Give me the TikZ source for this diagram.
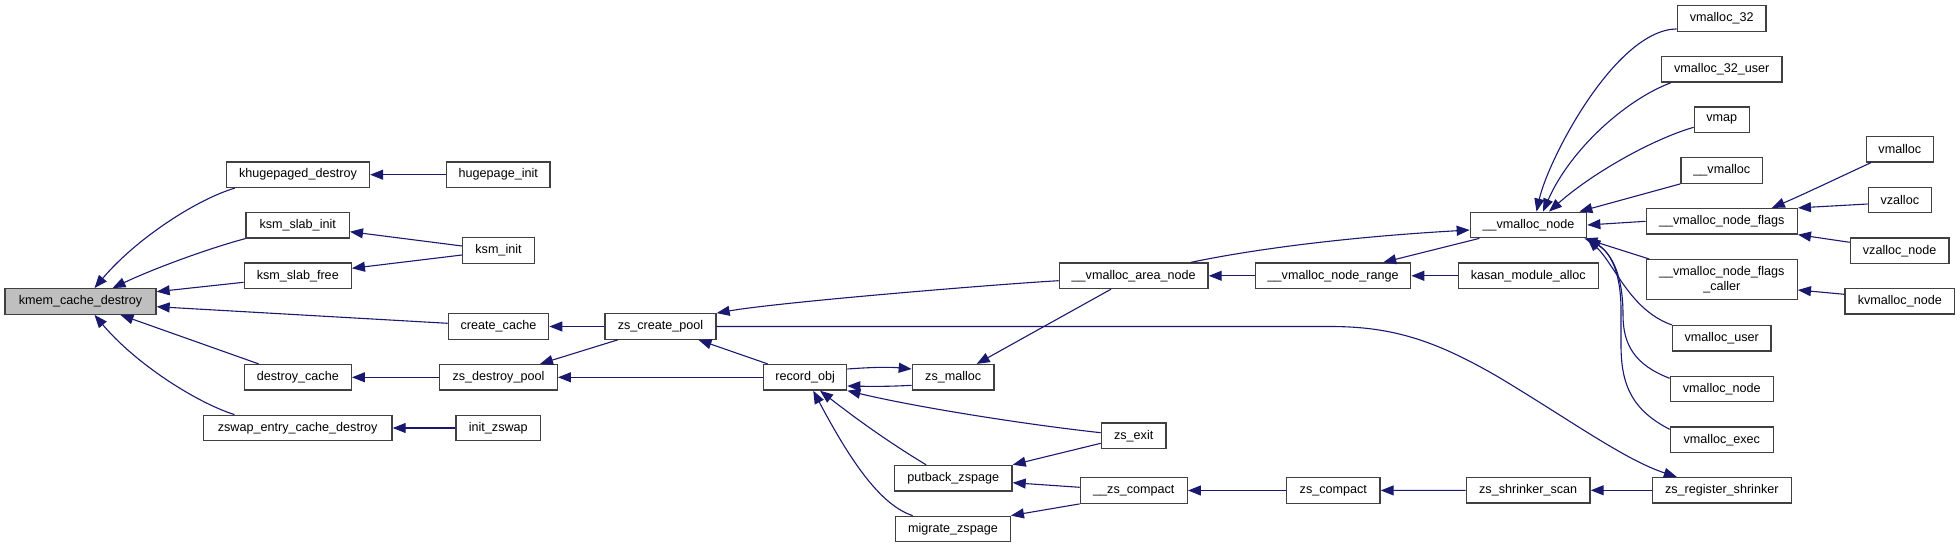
\documentclass[tikz,border=0pt]{standalone}
\usepackage{fontspec}
\setmainfont{Liberation Sans}
\definecolor{edgeblue}{HTML}{191970}
\definecolor{boxgray}{HTML}{404040}
\definecolor{rootfill}{HTML}{BFBFBF}
\usetikzlibrary{arrows.meta, calc}

\begin{document}
\begin{tikzpicture}[x=1pt, y=-1pt,
   fn/.style={draw=boxgray, line width=1.3pt, fill=white, inner sep=0pt,
      minimum height=25.5pt, align=center, font=\fontsize{12.6}{14.5}\selectfont},
   edge/.style={draw=edgeblue, line width=1.1pt, -{Triangle[length=13pt, width=10pt]}}]
   \useasboundingbox (0,0) rectangle (1960,548);
   % Root
   \node[fn, fill=rootfill, minimum width=151pt] (kmem) at (80.5,301.5) {kmem\_cache\_destroy};
   % Direct callers
   \node[fn, minimum width=143pt] (khuge) at (298,174.7) {khugepaged\_destroy};
   \node[fn, minimum width=103.3pt] (ksmslabinit) at (297.7,225.2) {ksm\_slab\_init};
   \node[fn, minimum width=107pt] (ksmslabfree) at (297.8,275.7) {ksm\_slab\_free};
   \node[fn, minimum width=107pt] (destroycache) at (297.8,377.3) {destroy\_cache};
   \node[fn, minimum width=188.7pt] (zswapdestroy) at (297.7,428) {zswap\_entry\_cache\_destroy};
   \node[fn, minimum width=100.4pt] (createcache) at (498.5,326.5) {create\_cache};
   % Third column
   \node[fn, minimum width=103.3pt] (hugeinit) at (498.3,174.7) {hugepage\_init};
   \node[fn, minimum width=71.7pt] (ksminit) at (498.5,250.5) {ksm\_init};
   \node[fn, minimum width=117.6pt] (zsdestroypool) at (498.5,377.3) {zs\_destroy\_pool};
   \node[fn, minimum width=84.7pt] (initzswap) at (498.3,428) {init\_zswap};
   % zsmalloc part
   \node[fn, minimum width=111pt] (zscreatepool) at (660.5,326.5) {zs\_create\_pool};
   \node[fn, minimum width=83pt] (recordobj) at (805.2,377.3) {record\_obj};
   \node[fn, minimum width=81.7pt] (zsmalloc) at (953.2,377.3) {zs\_malloc};
   \node[fn, minimum width=117.7pt] (putback) at (953.2,478.2) {putback\_zspage};
   \node[fn, minimum width=114.6pt] (migrate) at (953,529) {migrate\_zspage};
   \node[fn, minimum width=64.7pt] (zsexit) at (1133.7,435.7) {zs\_exit};
   \node[fn, minimum width=107pt] (zscompactint) at (1133.8,490.5) {\_\_zs\_compact};
   \node[fn, minimum width=93.5pt] (zscompact) at (1333.3,490.5) {zs\_compact};
   \node[fn, minimum width=123.7pt] (shrinkerscan) at (1528.2,490.3) {zs\_shrinker\_scan};
   \node[fn, minimum width=139pt] (regshrinker) at (1721.8,490.3) {zs\_register\_shrinker};
   % vmalloc part
   \node[fn, minimum width=148.7pt] (vareanode) at (1133.7,275.8) {\_\_vmalloc\_area\_node};
   \node[fn, minimum width=155pt] (vnoderange) at (1333.2,275.8) {\_\_vmalloc\_node\_range};
   \node[fn, minimum width=140pt] (kasan) at (1528.3,275.8) {kasan\_module\_alloc};
   \node[fn, minimum width=116.4pt] (vnode) at (1528.5,225) {\_\_vmalloc\_node};
   \node[fn, minimum width=88.7pt] (v32) at (1721.7,18.5) {vmalloc\_32};
   \node[fn, minimum width=120.3pt] (v32user) at (1721.8,69.3) {vmalloc\_32\_user};
   \node[fn, minimum width=55pt] (vmap) at (1721.8,119.8) {vmap};
   \node[fn, minimum width=81.7pt] (uvmalloc) at (1721.8,170.5) {\_\_vmalloc};
   \node[fn, minimum width=151pt] (vnodeflags) at (1721.8,221.3) {\_\_vmalloc\_node\_flags};
   \node[fn, minimum width=151pt, minimum height=40pt] (vflagscaller) at (1721.8,279.7) {\_\_vmalloc\_node\_flags\\\_caller};
   \node[fn, minimum width=98.7pt] (vuser) at (1721.7,338.3) {vmalloc\_user};
   \node[fn, minimum width=103pt] (vmallocnode) at (1721.8,389) {vmalloc\_node};
   \node[fn, minimum width=103pt] (vexec) at (1721.8,439.7) {vmalloc\_exec};
   \node[fn, minimum width=67pt] (vmalloc) at (1899.8,149.2) {vmalloc};
   \node[fn, minimum width=63pt] (vzalloc) at (1899.8,200) {vzalloc};
   \node[fn, minimum width=98.7pt] (vzallocnode) at (1899.7,250.7) {vzalloc\_node};
   \node[fn, minimum width=109.7pt] (kvmallocnode) at (1899.8,301.3) {kvmalloc\_node};

   % Calls into kmem_cache_destroy
   \draw[edge] ($(khuge.south west)+(9,0)$) .. controls (195,200) and (135,240) .. ($(kmem.north)+(14,0)$);
   \draw[edge] (ksmslabinit.south west) .. controls (210,248) and (155,268) .. ($(kmem.north)+(32,0)$);
   \draw[edge] ($(ksmslabfree.west)+(0,6.6)$) -- ($(kmem.east)+(0,-9.8)$);
   \draw[edge] ($(createcache.west)+(0,-3.2)$) -- ($(kmem.east)+(0,5.2)$);
   \draw[edge] ($(destroycache.north west)+(15,0)$) -- ($(kmem.south)+(40,0)$);
   \draw[edge] ($(zswapdestroy.north west)+(31.7,0)$) .. controls (195,402) and (135,363) .. ($(kmem.south)+(14,0)$);
   % Second level
   \draw[edge] (hugeinit) -- (khuge);
   \draw[edge] ($(ksminit.west)+(0,-4.5)$) -- ($(ksmslabinit.east)+(0,6.5)$);
   \draw[edge] ($(ksminit.west)+(0,4.5)$) -- ($(ksmslabfree.east)+(0,-7.4)$);
   \draw[edge] (zscreatepool) -- (createcache);
   \draw[edge] (zsdestroypool) -- (destroycache);
   \draw[edge] (initzswap) -- (zswapdestroy);
   % zs_create_pool and record_obj
   \draw[edge] ($(zscreatepool.south west)+(13.3,0)$) -- ($(zsdestroypool.north)+(41.5,0)$);
   \draw[edge] (recordobj) -- (zsdestroypool);
   \draw[edge] ($(recordobj.north west)+(4.6,0)$) -- ($(zscreatepool.south)+(38,0)$);
   \draw[edge] ($(vareanode.west)+(0,4.9)$) .. controls (1000,284) and (780,302) .. (zscreatepool.north east);
   \draw[edge] (zscreatepool.east) -- (1330,326.5) .. controls (1392,326.5) and (1435,340) .. (1500,378)
      .. controls (1570,420) and (1625,460) .. ($(regshrinker.north)+(-45,0)$);
   \draw[edge] ($(recordobj.east)+(0,-8.3)$) .. controls (875,367) and (890,367) .. ($(zsmalloc.west)+(0,-8.3)$);
   \draw[edge] ($(zsmalloc.west)+(0,8)$) .. controls (890,386.5) and (875,386.5) .. ($(recordobj.east)+(0,8.7)$);
   \draw[edge] ($(vareanode.south)+(-22.7,0)$) -- ($(zsmalloc.north)+(23.5,0)$);
   \draw[edge] ($(zsexit.west)+(0,-3)$) .. controls (1030,425) and (920,408) .. (recordobj.south east);
   \draw[edge] ($(putback.north west)+(32.4,0)$) .. controls (880,437) and (845,410) .. ($(recordobj.south)+(14.8,0)$);
   \draw[edge] ($(migrate.north west)+(17.6,0)$) .. controls (880,505) and (850,460) .. ($(recordobj.south)+(8,0)$);
   % Compaction chain
   \draw[edge] ($(zsexit.west)+(0,7.6)$) -- (putback.north east);
   \draw[edge] ($(zscompactint.west)+(0,-3.2)$) -- ($(putback.east)+(0,4.5)$);
   \draw[edge] (zscompactint.south west) -- (migrate.north east);
   \draw[edge] (zscompact) -- (zscompactint);
   \draw[edge] (shrinkerscan) -- (zscompact);
   \draw[edge] (regshrinker) -- (shrinkerscan);
   % vmalloc chain
   \draw[edge] (vnoderange) -- (vareanode);
   \draw[edge] (kasan) -- (vnoderange);
   \draw[edge] ($(vnode.south west)+(9.7,0)$) -- ($(vnoderange.north)+(50,0)$);
   \draw[edge] ($(vareanode.north east)+(-18,0)$) .. controls (1240,252) and (1330,238) .. ($(vnode.west)+(0,5)$);
   % Callers of __vmalloc_node
   \draw[edge] ($(v32.south west)+(0,-3)$) .. controls (1615,30) and (1548,160) .. ($(vnode.north)+(8,0)$);
   \draw[edge] ($(v32user.south west)+(10,0)$) .. controls (1625,100) and (1570,150) .. ($(vnode.north)+(14.5,0)$);
   \draw[edge] ($(vmap.west)+(0,7.5)$) .. controls (1650,140) and (1590,175) .. ($(vnode.north)+(20.5,0)$);
   \draw[edge] (uvmalloc.south west) -- ($(vnode.north east)+(-8,0)$);
   \draw[edge] (vnodeflags.west) -- (vnode.east);
   \draw[edge] ($(vflagscaller.north west)+(3.7,0)$) -- ($(vnode.south east)+(-3,0)$);
   \draw[edge] (vuser.north west) .. controls (1630,310) and (1615,265) .. (vnode.south east);
   \draw[edge] ($(vmallocnode.west)+(0,-10.7)$) .. controls (1635,365) and (1623,345) .. (1623,315)
      .. controls (1623,275) and (1612,254) .. (vnode.south east);
   \draw[edge] ($(vexec.west)+(0,-10.4)$) .. controls (1632,410) and (1621,385) .. (1621,345) -- (1621,310)
      .. controls (1621,272) and (1610,252) .. (vnode.south east);
   % Callers of __vmalloc_node_flags(_caller)
   \draw[edge] ($(vmalloc.south west)+(5.4,0)$) .. controls (1840,177) and (1800,196) .. ($(vnodeflags.north)+(50,0)$);
   \draw[edge] ($(vzalloc.west)+(0,4)$) -- (vnodeflags.north east);
   \draw[edge] ($(vzallocnode.west)+(0,-8.4)$) -- (vnodeflags.south east);
   \draw[edge] ($(kvmallocnode.west)+(0,-7)$) -- ($(vflagscaller.east)+(0,10.3)$);
\end{tikzpicture}
\end{document}
